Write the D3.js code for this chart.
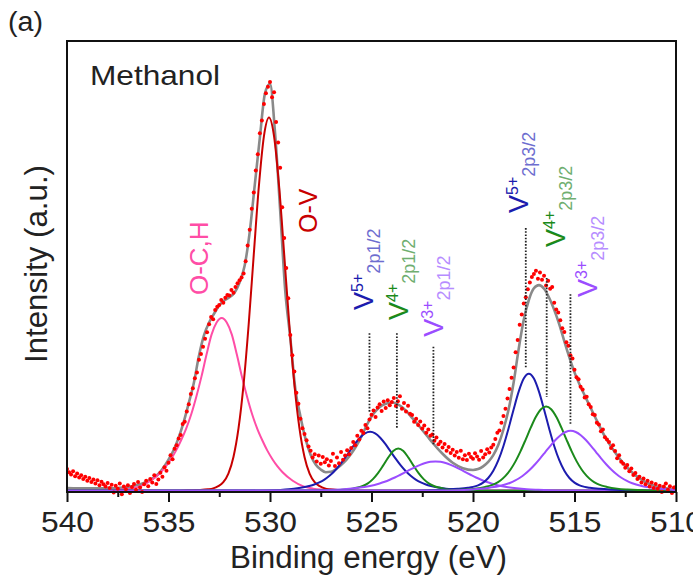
<!DOCTYPE html>
<html><head><meta charset="utf-8">
<script src="https://cdn.jsdelivr.net/npm/d3@7"></script>
<style>
body{margin:0;background:#fff}
svg{display:block}
text{font-family:"Liberation Sans", Arial, sans-serif}
</style>
</head><body>
<svg id="chart" width="693" height="575"></svg>
<script>
// ---------------- data ----------------
const xTicks = [540, 535, 530, 525, 520, 515, 510];
const xMinorTicks = [537.5, 532.5, 527.5, 522.5, 517.5, 512.5];

// measured spectrum: one value every 0.1 eV from 540.0 down to 510.0
const dataStart = 540.0, dataStep = 0.1;
const dataCounts = [
 4.8,4.1,3.6,4.3,3.2,3.8,2.9,3.4,2.6,3.1,
 2.2,2.8,1.9,2.5,1.6,2.3,1.2,2.0,1.4,0.9,
 1.7,0.6,1.3,-0.4,1.1,0.4,1.6,-0.8,0.9,0.3,
 1.2,-0.5,0.8,1.5,0.2,1.9,0.7,-0.3,1.4,2.2,
 1.0,2.6,1.8,3.4,1.5,2.5,4.0,3.1,5.2,4.4,
 6.2,7.9,7.0,9.3,10.1,11.6,12.4,14.8,15.3,17.6,
 19.2,21.5,22.8,25.0,26.3,29.1,30.4,32.0,33.8,35.2,
 37.0,38.6,38.1,40.2,40.9,41.3,42.4,41.8,42.9,43.5,
 43.4,44.6,44.0,45.3,46.1,46.8,47.4,48.3,51.0,54.5,
 58.0,62.7,66.3,71.2,74.8,79.5,82.3,86.0,88.4,89.8,
 90.9,87.5,88.6,82.0,77.4,71.8,63.0,56.2,49.5,42.8,
 34.6,30.1,26.5,21.8,19.3,16.0,13.9,12.6,11.2,9.8,
 8.9,7.4,8.1,6.5,7.8,6.0,7.5,6.3,7.0,5.6,
 6.6,8.2,5.5,7.4,6.1,8.6,6.9,7.8,9.0,8.1,
 9.5,10.8,10.1,12.2,11.4,13.3,12.8,14.6,13.9,15.8,
 16.9,17.8,16.4,18.5,19.2,17.7,19.8,18.4,20.1,19.0,
 19.7,20.6,18.8,19.9,21.0,18.2,19.5,17.6,18.9,17.1,
 16.8,15.3,16.0,14.6,15.4,13.8,14.5,12.9,13.6,12.2,
 12.5,11.1,11.8,10.3,10.9,9.6,10.4,8.9,9.7,8.4,
 9.1,7.8,8.6,7.3,8.9,7.0,7.9,6.8,8.2,7.5,
 7.1,8.3,7.6,6.9,8.8,7.4,8.1,9.2,8.5,9.6,
 10.2,11.5,12.9,13.4,15.1,16.6,18.2,20.5,22.6,25.1,
 27.4,30.8,33.5,36.9,39.2,41.6,43.0,44.8,46.3,47.5,
 48.2,48.9,47.1,48.5,46.9,47.8,45.6,46.7,44.9,45.3,
 41.8,40.3,39.6,37.9,36.1,35.3,33.0,32.2,30.1,29.4,
 26.9,25.2,24.8,23.1,22.5,20.7,20.9,19.2,18.6,17.0,
 16.8,15.1,14.7,13.2,13.6,11.9,11.4,10.8,9.5,10.1,
 8.8,7.2,7.9,6.4,6.0,5.1,5.7,4.3,4.9,3.5,
 3.9,2.6,3.1,1.8,2.7,1.4,2.2,0.9,1.8,0.6,
 1.5,0.4,1.1,-0.3,0.9,1.6,0.2,1.0,-0.5,0.7,
 0.8
];

// fitted envelope (grey)
const envEnergy = [540,539,538,537.5,537,536.5,536,535.5,535,534.75,534.5,534.25,534,533.75,533.5,533.25,533,532.75,532.5,532.25,532,531.75,531.5,531.25,531,530.75,530.5,530.25,530,529.75,529.5,529.25,529,528.75,528.5,528.25,528,527.75,527.5,527.25,527,526.75,526.5,526.25,526,525.75,525.5,525.25,525,524.75,524.5,524.25,524,523.75,523.5,523.25,523,522.75,522.5,522.25,522,521.75,521.5,521,520.5,520,519.75,519.5,519.25,519,518.75,518.5,518.25,518,517.75,517.5,517.25,517,516.75,516.5,516.25,516,515.75,515.5,515.25,515,514.75,514.5,514,513.5,513,512.5,512,511.5,511,510.5,510];
const envValue = [0.6,0.5,0.5,0.6,0.8,1.3,2.1,3.7,6.9,9.0,11.8,15.3,19.5,24.0,30.0,34.6,37.4,39.4,41.2,42.3,43.0,44.0,46.3,50.0,57.5,68.0,78.5,88.3,90.5,79.5,62.4,44.5,34.0,22.5,16.5,11.5,8.0,5.8,4.7,4.1,4.2,4.8,5.7,6.8,8.2,9.9,12.0,14.4,16.5,17.9,18.9,19.4,19.6,19.3,18.6,17.5,16.2,14.9,13.5,12.1,10.7,9.4,8.2,6.2,5.0,4.6,4.8,5.4,6.4,7.9,10.2,13.6,18.0,24.0,31.5,38.0,42.4,45.0,45.7,44.9,42.9,40.2,37.0,33.2,29.6,26.3,23.6,21.2,16.5,12.0,8.5,5.6,3.4,1.9,1.0,0.5,0.3];

// fitted components: values at energy offsets (eV) from each component centre
const peakOffsets = [-6,-5,-4.5,-4,-3.5,-3,-2.75,-2.5,-2.25,-2,-1.75,-1.5,-1.25,-1,-0.75,-0.5,-0.25,0,0.25,0.5,0.75,1,1.25,1.5,1.75,2,2.25,2.5,2.75,3,3.5,4,4.5,5,6];
const componentNames = ["O-C,H","O-V","V5+ 2p1/2","V4+ 2p1/2","V3+ 2p1/2","V5+ 2p3/2","V4+ 2p3/2","V3+ 2p3/2"];
const componentCenters = [532.38, 530.05, 525.07, 523.68, 521.85, 517.25, 516.40, 515.19];
const ochValues  = [0,0.2,0.45,1.0,2.2,4.1,5.4,7.0,8.9,11.2,13.8,17.0,20.9,25.3,30.2,34.7,37.4,38.4,37.4,34.7,30.2,25.3,20.9,17.0,13.8,11.2,8.9,7.0,5.4,4.1,2.2,1.0,0.45,0.2,0];
const ovValues   = [0,0,0,0.08,0.15,0.3,0.5,1.0,1.9,3.8,7.5,13.9,23.7,37.0,52.5,67.6,78.8,83.0,78.8,67.6,52.5,37.0,23.7,13.9,7.5,3.8,1.9,1.0,0.5,0.3,0.15,0.08,0,0,0];
const v5p12Values = [0,0.05,0.15,0.3,0.6,1.05,1.37,1.82,2.45,3.30,4.37,5.67,7.17,8.78,10.38,11.77,12.75,13.1,12.75,11.77,10.38,8.78,7.17,5.67,4.37,3.30,2.45,1.82,1.37,1.05,0.6,0.3,0.15,0.05,0];
const v4p12Values = [0,0,0,0.04,0.08,0.15,0.22,0.32,0.45,0.69,1.04,1.63,2.57,3.90,5.57,7.35,8.82,9.4,8.82,7.35,5.57,3.90,2.57,1.63,1.04,0.69,0.45,0.32,0.22,0.15,0.08,0.04,0,0,0];
const v3p12Values = [0.05,0.2,0.32,0.52,0.81,1.27,1.59,1.97,2.42,2.92,3.48,4.06,4.66,5.23,5.73,6.14,6.41,6.5,6.41,6.14,5.73,5.23,4.66,4.06,3.48,2.92,2.42,1.97,1.59,1.27,0.81,0.52,0.32,0.2,0.05];
const v5p32Values = [0,0.08,0.15,0.25,0.4,0.64,0.84,1.19,1.79,2.81,4.41,6.77,9.94,13.82,18.05,22.01,24.92,26.0,24.92,22.01,18.05,13.82,9.94,6.77,4.41,2.81,1.79,1.19,0.84,0.64,0.4,0.25,0.15,0.08,0];
const v4p32Values = [0,0.06,0.12,0.25,0.45,0.83,1.12,1.57,2.26,3.28,4.71,6.57,8.85,11.42,14.06,16.42,18.09,18.7,18.09,16.42,14.06,11.42,8.85,6.57,4.71,3.28,2.26,1.57,1.12,0.83,0.45,0.25,0.12,0.06,0];
const v3p32Values = [0.05,0.22,0.4,0.67,1.03,1.70,2.21,2.87,3.70,4.71,5.88,7.19,8.58,9.97,11.27,12.34,13.05,13.3,13.05,12.34,11.27,9.97,8.58,7.19,5.88,4.71,3.70,2.87,2.21,1.70,1.03,0.67,0.4,0.22,0.05];
const componentValues = [ochValues, ovValues, v5p12Values, v4p12Values, v3p12Values, v5p32Values, v4p32Values, v3p32Values];

// dotted peak-position markers (energy, top value, bottom value)
const markerEnergy = [525.1, 523.75, 521.95, 517.4, 516.37, 515.2];
const markerTop    = [35.0, 35.0, 32.0, 58.4, 47.3, 43.7];
const markerBottom = [17.3, 13.9, 10.2, 27.3, 20.8, 14.6];

// ---------------- layout / styles ----------------
const plot = {left: 67, right: 676, top: 41, bottom: 492};
const componentColors = ["#ff4da6","#c80000","#1c1cae","#1b8a1b","#9b4dff","#1c1cae","#1b8a1b","#9b4dff"];

const svg = d3.select("#chart");
const x = d3.scaleLinear().domain([540, 510]).range([plot.left, plot.right]);
const y = d3.scaleLinear().domain([-0.3, 100]).range([plot.bottom, plot.top]);

const defs = svg.append("defs");
defs.append("clipPath").attr("id","clipPlot").append("rect")
  .attr("x", plot.left).attr("y", plot.top).attr("width", plot.right-plot.left).attr("height", plot.bottom-plot.top);
defs.append("clipPath").attr("id","clipDots").append("rect")
  .attr("x", plot.left).attr("y", plot.top).attr("width", plot.right-plot.left).attr("height", plot.bottom-plot.top+6);

const line = d3.line().x(d => x(d[0])).y(d => y(d[1])).curve(d3.curveMonotoneX);

// envelope
const envData = envEnergy.map((e,i) => [e, envValue[i]]);
svg.append("path").datum(envData).attr("clip-path","url(#clipPlot)")
  .attr("d", line).attr("fill","none").attr("stroke","#8a8a8a").attr("stroke-width",2.6);

// components
componentValues.forEach((vals, k) => {
  const c = componentCenters[k];
  let pts = peakOffsets.map((o,i) => [c + o, vals[i]]).filter(p => p[0] <= 540 && p[0] >= 510);
  pts.push([540, 0], [510, 0]);
  pts.sort((a,b) => b[0]-a[0]);
  svg.append("path").datum(pts).attr("clip-path","url(#clipPlot)")
    .attr("d", line).attr("fill","none").attr("stroke", componentColors[k]).attr("stroke-width",2);
});

// measured points
const dots = dataCounts.map((v,i) => [dataStart - i*dataStep, v]);
svg.append("g").attr("clip-path","url(#clipDots)").selectAll("circle").data(dots).join("circle")
  .attr("cx", d => x(d[0])).attr("cy", d => y(d[1])).attr("r", 2.0).attr("fill", "#ff0000");

// markers
svg.append("g").selectAll("line").data(markerEnergy).join("line")
  .attr("x1", d => x(d)).attr("x2", d => x(d))
  .attr("y1", (d,i) => y(markerTop[i])).attr("y2", (d,i) => y(markerBottom[i]))
  .attr("stroke","#222").attr("stroke-width",1.8).attr("stroke-dasharray","1.6,1.6");

// frame
svg.append("rect").attr("x", plot.left).attr("y", plot.top)
  .attr("width", plot.right-plot.left).attr("height", plot.bottom-plot.top)
  .attr("fill","none").attr("stroke","#111").attr("stroke-width",2);

// x axis
const axisG = svg.append("g").attr("transform", `translate(0,${plot.bottom})`)
  .call(d3.axisBottom(x).tickValues(xTicks).tickSize(10).tickFormat(d3.format("d")));
axisG.select(".domain").remove();
axisG.selectAll(".tick line").attr("stroke","#111").attr("stroke-width",2);
axisG.selectAll(".tick text").attr("y", 39.5).attr("dy", 0)
  .attr("font-size", 29).attr("fill","#222").attr("font-family","Liberation Sans, Arial, sans-serif")
  .attr("textLength", 53).attr("lengthAdjust","spacingAndGlyphs");
const minorG = svg.append("g").attr("transform", `translate(0,${plot.bottom})`)
  .call(d3.axisBottom(x).tickValues(xMinorTicks).tickSize(5).tickFormat(""));
minorG.select(".domain").remove();
minorG.selectAll(".tick line").attr("stroke","#111").attr("stroke-width",2);

// titles
svg.append("text").attr("x", 368.5).attr("y", 568).attr("text-anchor","middle")
  .attr("font-size", 31).attr("fill","#222").attr("textLength", 277).attr("lengthAdjust","spacingAndGlyphs")
  .text("Binding energy (eV)");
svg.append("text").attr("transform","translate(47,264) rotate(-90)").attr("text-anchor","middle")
  .attr("font-size", 30.5).attr("fill","#222").attr("textLength", 198).attr("lengthAdjust","spacingAndGlyphs")
  .text("Intensity (a.u.)");
svg.append("text").attr("x", 90).attr("y", 85).attr("font-size", 28).attr("fill","#222")
  .attr("textLength", 130).attr("lengthAdjust","spacingAndGlyphs").text("Methanol");
svg.append("text").attr("x", 8).attr("y", 31).attr("font-size", 27).attr("fill","#222")
  .attr("textLength", 35).attr("lengthAdjust","spacingAndGlyphs").text("(a)");

// peak labels (anchored in data space, rotated)
const labels = [
  {e:533.05, v:43.5, parts:[{t:"O-C,H", s:26, dy:0, c:"#ff4da6"}]},
  {e:527.68, v:57.3, parts:[{t:"O-V", s:25, dy:0, c:"#c80000"}]},
  {e:524.93, v:40.2, parts:[{t:"V",s:27,dy:0,c:"#1c1cae"},{t:"5+",s:16,dy:-10,c:"#1c1cae"},{t:"2p1/2",s:18,dy:17,c:"#6d6dcf"}]},
  {e:523.20, v:37.95, parts:[{t:"V",s:27,dy:0,c:"#1b8a1b"},{t:"4+",s:16,dy:-10,c:"#1b8a1b"},{t:"2p1/2",s:18,dy:17,c:"#6fae6f"}]},
  {e:521.48, v:34.2, parts:[{t:"V",s:27,dy:0,c:"#9b4dff"},{t:"3+",s:16,dy:-10,c:"#9b4dff"},{t:"2p1/2",s:18,dy:17,c:"#b68cff"}]},
  {e:517.29, v:61.75, parts:[{t:"V",s:27,dy:0,c:"#1c1cae"},{t:"5+",s:16,dy:-10,c:"#1c1cae"},{t:"2p3/2",s:18,dy:17,c:"#6d6dcf"}]},
  {e:515.47, v:54.2, parts:[{t:"V",s:27,dy:0,c:"#1b8a1b"},{t:"4+",s:16,dy:-10,c:"#1b8a1b"},{t:"2p3/2",s:18,dy:17,c:"#6fae6f"}]},
  {e:513.89, v:43.07, parts:[{t:"V",s:27,dy:0,c:"#9b4dff"},{t:"3+",s:16,dy:-10,c:"#9b4dff"},{t:"2p3/2",s:18,dy:17,c:"#b68cff"}]}
];
labels.forEach(L => {
  const t = svg.append("text").attr("transform", `translate(${x(L.e)},${y(L.v)}) rotate(-90)`);
  L.parts.forEach(p => {
    t.append("tspan").attr("dy", p.dy).attr("font-size", p.s).attr("fill", p.c).text(p.t);
  });
});
</script>
</body></html>
